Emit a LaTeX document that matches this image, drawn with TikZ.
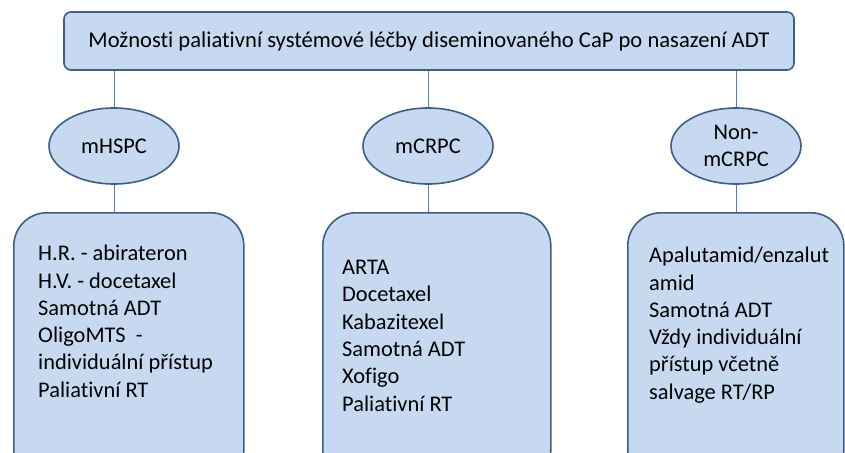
\documentclass[tikz,border=0pt]{standalone}
\usepackage{fontspec}
\setmainfont{Carlito}[Ligatures=NoCommon]
\usepackage{xcolor}
\usepackage{tikz}
\usetikzlibrary{calc,positioning,shapes.geometric}

\definecolor{boxfill}{HTML}{C6D9F1}
\definecolor{boxline}{HTML}{3A5F8B}
\definecolor{linkline}{HTML}{4F81BD}

\begin{document}
\begin{tikzpicture}[x=1pt,y=-1pt,
    head/.style={draw=boxline,fill=boxfill,line width=1.6pt,rounded corners=7pt,
                 minimum width=730pt,minimum height=58pt,font=\fontsize{22.6}{26}\selectfont},
    stage/.style={ellipse,draw=boxline,fill=boxfill,line width=1.6pt,
                  minimum width=130pt,minimum height=76pt,inner sep=0pt,align=center,
                  font=\fontsize{22.4}{27}\selectfont},
    card/.style={draw=boxline,fill=boxfill,line width=1.6pt,rounded corners=33pt,
                 anchor=north west,minimum height=270pt},
    list/.style={anchor=north west,align=left,inner sep=0pt,
                 font=\fontsize{22.4}{27.3}\selectfont},
    link/.style={draw=linkline,line width=0.9pt}]
\useasboundingbox (0,0) rectangle (845,452);
\clip (0,0) rectangle (845,452);
% top
\node[head] (top) at (429,41) {Možnosti paliativní systémové léčby diseminovaného CaP po nasazení ADT};
% stages
\node[stage] (hspc) at (114,146) {mHSPC};
\node[stage] (crpc) at (428,146) {mCRPC};
\node[stage] (nmcrpc) at (736,146) {Non-\\mCRPC};
% lists
\node[card,minimum width=230pt] (hspcbox) at (13,212) {};
\node[card,minimum width=228pt] (crpcbox) at (322,212) {};
\node[card,minimum width=216pt] (nmbox) at (627,212) {};
\node[list] (hspctxt) at (38,245) {H.R. - abirateron\\H.V. - docetaxel\\Samotná ADT\\OligoMTS\ \ -\\individuální přístup\\Paliativní RT};
\node[list] (crpctxt) at (342,260) {ARTA\\Docetaxel\\Kabazitexel\\Samotná ADT\\Xofigo\\Paliativní RT};
\node[list] (nmtxt) at (649,247) {Apalutamid/enzalut\\amid\\Samotná ADT\\Vždy individuální\\přístup včetně\\salvage RT/RP};
% links
\foreach \s/\b in {hspc/hspcbox,crpc/crpcbox,nmcrpc/nmbox}{
  \draw[link] (\s.north |- top.south) -- (\s.north);
  \draw[link] (\s.south) -- (\s.south |- \b.north);
}
\end{tikzpicture}
\end{document}
